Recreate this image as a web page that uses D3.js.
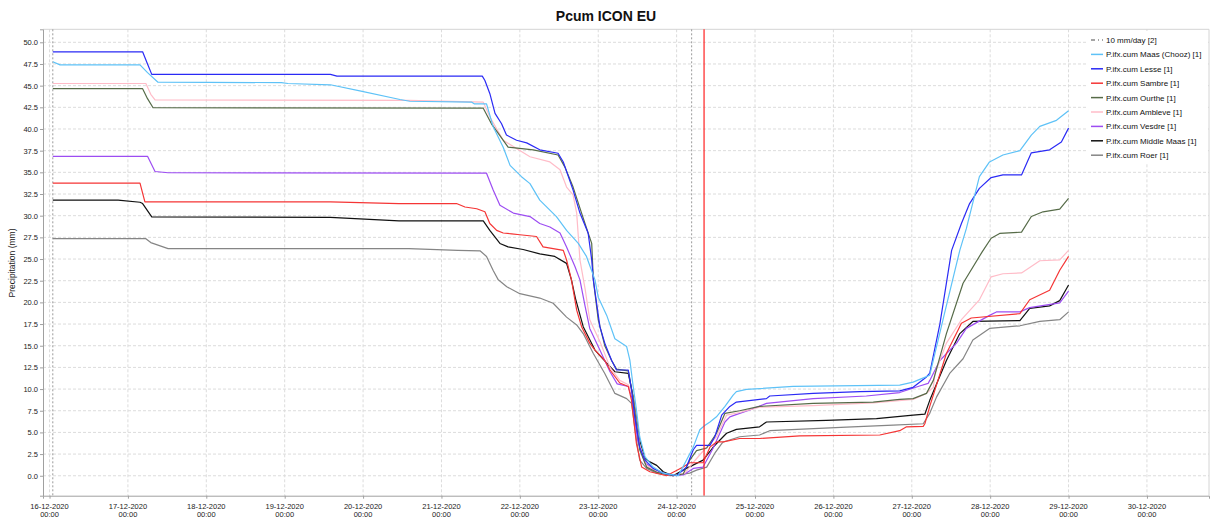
<!DOCTYPE html>
<html>
<head>
<meta charset="utf-8">
<script src="https://cdn.jsdelivr.net/npm/d3@7"></script>
<style>
  html, body { margin: 0; padding: 0; background: #fff; }
  svg { display: block; font-family: "Liberation Sans", Arial, sans-serif; }
</style>
</head>
<body>
<div id="chart"></div>
<script>
// Cumulative precipitation per catchment, [hours since 16-12-2020 00:00, mm]
const maasChooz = [[1,47.75],[3.2,47.4],[27.7,47.4],[30,46.5],[33.2,45.4],[71,45.35],[73,45.25],[86,45.1],[95,44.4],[107.3,43.4],[110.3,43.2],[129.2,43.1],[130,42.9],[133.8,42.9],[135.8,40.3],[138.9,37.9],[141,35.8],[144.5,34.5],[147.1,33.7],[150.1,31.8],[155.2,29.9],[158.3,28.3],[161.9,26.8],[164.4,25.3],[167,22.6],[168,20.6],[170.6,18.5],[173.1,15.8],[176.7,14.9],[177.7,13.3],[178.7,10.3],[179.7,7.6],[180.7,4.5],[182.3,2.2],[184.8,1.0],[187.9,0.3],[192.5,0],[195,1.8],[197.1,3.3],[199.1,5.3],[200.6,5.8],[202.2,6.2],[204.2,6.8],[206.8,8.0],[209.3,9.3],[210.3,9.7],[213.4,9.96],[227.7,10.3],[260.3,10.46],[264.4,10.8],[267,11.2],[269.5,11.6],[274,18.7],[278.7,26],[280.7,28.5],[284.7,34.5],[287.8,36.2],[291.9,37.0],[297.1,37.5],[300.6,39.3],[303.2,40.3],[308.3,41.0],[312,42.1]];
const lesse = [[1,48.9],[28.5,48.9],[30,47.5],[31.3,46.3],[86,46.3],[88,46.1],[132.5,46.1],[133.3,45.6],[134.8,44.1],[136.4,41.8],[138.4,40.6],[139.9,39.3],[143,38.7],[146.1,38.4],[150.1,37.6],[155.7,37.2],[157.3,36.2],[160.3,32.95],[162.4,30.3],[164.9,28.0],[166,24.9],[166.5,22.6],[167.5,19.9],[168.5,17.2],[170,15.3],[172.1,13.3],[173.6,12.2],[177.2,12.2],[178.2,9.9],[179.2,6.8],[180.7,3.3],[182.3,1.8],[184.8,0.85],[187.9,0.3],[192,0],[195,1.0],[197.1,3.0],[198.1,3.5],[202.2,3.5],[203.7,4.5],[205.8,7.0],[208.3,8.0],[210.3,8.5],[219.5,8.9],[220.5,9.2],[233.8,9.5],[248.1,9.7],[260.3,9.8],[264.4,10.2],[268.5,11.4],[269.5,11.85],[272.6,17.5],[276.2,26],[279.2,29.1],[281.7,31.4],[284.7,33.15],[288.3,34.4],[291.9,34.7],[297.6,34.7],[300.6,37.25],[306.2,37.6],[309.8,38.5],[312,40.1]];
const sambre = [[1,33.75],[27.7,33.75],[29.2,31.6],[86,31.6],[107,31.4],[124.6,31.4],[127.2,31.0],[130.8,30.8],[133.3,30.45],[134.8,29.1],[136.9,28.3],[138.9,28.0],[141.5,27.9],[144,27.8],[149.1,27.6],[151.1,26.4],[157.3,26.0],[158.3,24.9],[159.8,22.6],[161.4,19.1],[162.9,17.2],[165.4,15.3],[167,14.5],[170,13.3],[171.6,12.2],[174.6,10.7],[177.2,10.3],[178.2,8.7],[179.7,3.7],[181.3,1.0],[183.8,0.46],[188.9,0],[194,1.0],[196,1.5],[200.1,1.5],[202.2,3.3],[204.2,3.9],[206.3,3.9],[211.3,4.3],[217.4,4.3],[229.7,4.6],[254.2,4.7],[260.3,5.2],[262.4,5.65],[267.5,5.7],[268,6.0],[269.5,8.0],[274.6,14.1],[279.2,17.6],[282.2,18.2],[297.1,18.7],[300.1,20.3],[306.2,21.4],[309.3,23.7],[312,25.3]];
const ourthe = [[1,44.65],[28.5,44.65],[30,43.5],[31.7,42.45],[132.8,42.4],[135.3,40.6],[137.4,39.5],[140.4,37.9],[148.1,37.6],[155.7,37.0],[157.8,35.6],[160.3,33.3],[162.9,30.3],[164.9,28.0],[166,26.8],[166.5,22.6],[168,18.0],[170,15.0],[172.1,13.3],[173.6,12.3],[177.2,12.1],[178.7,9.0],[180.7,3.0],[182.8,1.0],[185.9,0.4],[190.9,0],[194,0.2],[196,1.8],[198.1,2.9],[201.2,3.2],[204.2,4.9],[206.8,7.2],[211.3,7.5],[217.4,8.0],[233.8,8.35],[252.2,8.5],[260.3,8.8],[264.4,8.9],[268.5,9.5],[270.6,11.0],[274.6,16.4],[279.7,22.2],[285.5,25.8],[288.3,27.4],[290.9,27.95],[297.6,28.1],[300.6,29.9],[304.2,30.45],[309.3,30.76],[312,32.0]];
const ambleve = [[1,45.25],[29.5,45.25],[31,44.0],[32.3,43.35],[110,43.3],[132.8,43.1],[134.8,41.4],[138.9,38.7],[147.1,36.8],[153.2,36.2],[156.3,35.3],[158.3,33.3],[160.3,32.4],[161.4,30.3],[162.4,24.9],[164,21.5],[165.4,18.0],[168.5,15.5],[171.6,12.5],[174.6,11.0],[177.2,10.5],[178.7,9.0],[180.7,3.5],[182.8,1.2],[187,0.3],[190.9,0],[194.5,0.3],[197,1.5],[200,2.8],[204.2,4.5],[207.3,7.0],[211.3,7.3],[217.4,7.9],[233.8,8.1],[252.2,8.4],[264.4,8.8],[268.5,9.5],[270.6,10.2],[271.1,11.8],[274.6,15.3],[279.2,18.0],[284.7,20.3],[288.3,22.95],[291.9,23.3],[297.6,23.4],[303.2,24.8],[309.3,24.9],[312,26.0]];
const vesdre = [[1,36.85],[30,36.85],[32.3,35.1],[36.3,34.95],[133.8,34.9],[135.8,33.0],[137.9,31.2],[142,30.3],[147.1,29.9],[150.1,29.1],[153.2,28.7],[156.3,28.0],[158.3,26.4],[160.9,24.1],[162.4,22.6],[164,19.5],[165.4,17.0],[168.5,14.5],[171.6,12.0],[173.8,10.6],[177.2,10.3],[178.3,9.0],[180.1,4.0],[182.3,1.5],[185.9,0.5],[190,0],[194,0.1],[197.1,0.85],[200.1,1.0],[203.2,3.2],[206.8,6.2],[208.3,6.8],[211.3,7.2],[214.4,7.6],[219.5,8.35],[233.8,8.9],[250.1,9.2],[260.3,9.6],[266.4,10.35],[269,10.65],[269.5,11.0],[272.6,13.3],[277.7,15.3],[280.7,17.0],[287.8,18.5],[289.9,18.9],[297.1,18.9],[300.1,19.4],[309.3,19.95],[312,21.3]];
const middleMaas = [[1,31.8],[21,31.8],[27.7,31.55],[28.5,31.4],[31.3,29.87],[86,29.8],[107,29.4],[132.8,29.4],[134.8,28.3],[137.9,26.8],[140.4,26.4],[145,26.1],[150.1,25.6],[154.7,25.3],[158.3,24.5],[159.8,22.6],[161,20.5],[163.4,17.2],[167,14.5],[170.6,13.0],[173.1,12.0],[177.2,11.8],[178.7,9.1],[180.7,4.1],[182.3,2.0],[183.8,1.6],[185.9,1.2],[187.9,0.46],[190.9,0],[195,0.85],[200.1,1.8],[202.2,2.8],[203.2,3.3],[205.2,4.1],[207.3,4.9],[210.3,5.35],[217.4,5.65],[219.5,6.2],[237.9,6.4],[253.2,6.6],[264.4,7.0],[268,7.1],[269.5,8.7],[274.6,13.3],[278.7,16.4],[282.7,17.8],[297.1,17.9],[300.1,19.3],[306.2,19.6],[309.3,20.2],[312,22.0]];
const roer = [[1,27.35],[29.5,27.35],[31,26.9],[36.3,26.2],[110,26.2],[125,26.0],[131.8,25.95],[133.8,25.3],[135.8,23.7],[137.4,22.6],[140,21.8],[144,21.0],[150.1,20.5],[154.2,19.9],[158.3,18.3],[161.4,17.4],[163.4,16.4],[166.5,14.1],[170,11.8],[173.1,9.5],[176.7,8.9],[178.2,8.35],[179.7,4.1],[180.7,1.8],[182.8,0.85],[185.9,0.3],[190.9,0],[196,0.3],[198.1,0.65],[201.2,1.0],[203.7,2.6],[205.8,3.7],[206.3,3.9],[211.3,4.5],[217.4,4.7],[220.5,5.2],[244,5.6],[258.3,5.85],[267.5,6.0],[269.5,7.2],[271.6,9.1],[275.6,11.8],[279.7,13.5],[282.7,15.65],[287.8,17.0],[297.1,17.3],[303.2,17.8],[309.3,18.0],[312,18.9]];

const seriesNames = ['P.ifx.cum Maas (Chooz) [1]', 'P.ifx.cum Lesse [1]', 'P.ifx.cum Sambre [1]', 'P.ifx.cum Ourthe [1]',
                     'P.ifx.cum Ambleve [1]', 'P.ifx.cum Vesdre [1]', 'P.ifx.cum Middle Maas [1]', 'P.ifx.cum Roer [1]'];
const seriesData = [maasChooz, lesse, sambre, ourthe, ambleve, vesdre, middleMaas, roer];
const seriesColors = ['#5ec2f7', '#2a2af5', '#f53535', '#566b48', '#ffbcc8', '#9d4df2', '#111111', '#858585'];
const thresholdLabel = '10 mm/day [2]';

// vertical markers (hours since start)
const dottedMarkers = [1, 196.6];
const nowMarker = 200.4;

const yTicks = d3.range(0, 50.01, 2.5);
const startDate = new Date(2020, 11, 16, 0, 0);
const hourToDate = h => new Date(startDate.getTime() + h * 3600 * 1000);

const W = 1213, H = 518;
const margin = { top: 29.3, right: 4, bottom: 22.3, left: 43 };

const svg = d3.select('#chart').append('svg')
    .attr('width', W)
    .attr('height', H);

const x = d3.scaleTime()
    .domain([hourToDate(-2), hourToDate(355)])
    .range([margin.left, W - margin.right]);
const y = d3.scaleLinear()
    .domain([-2.3, 51.5])
    .range([H - margin.bottom, margin.top]);

const dayTicks = d3.timeDay.range(startDate, hourToDate(14 * 24 + 1));

// Title
svg.append('text')
    .attr('x', 606).attr('y', 21)
    .attr('text-anchor', 'middle')
    .attr('font-size', '14px')
    .attr('font-weight', 'bold')
    .attr('fill', '#111')
    .text('Pcum ICON EU');

// Y axis label
svg.append('text')
    .attr('transform', 'translate(15,263) rotate(-90)')
    .attr('text-anchor', 'middle')
    .attr('font-size', '8.5px')
    .attr('fill', '#222')
    .text('Precipitation (mm)');

// Grid
const grid = svg.append('g');
grid.selectAll('.hgrid')
    .data(yTicks)
    .enter().append('line')
    .attr('x1', margin.left).attr('x2', W - margin.right)
    .attr('y1', d => y(d)).attr('y2', d => y(d))
    .attr('stroke', '#dcdcdc')
    .attr('stroke-dasharray', '3,2');
grid.selectAll('.vgrid')
    .data(dayTicks)
    .enter().append('line')
    .attr('x1', d => x(d)).attr('x2', d => x(d))
    .attr('y1', margin.top).attr('y2', H - margin.bottom)
    .attr('stroke', '#dcdcdc')
    .attr('stroke-dasharray', '3,2');

// Frame top and right
svg.append('path')
    .attr('d', `M${margin.left},${margin.top}H${W - margin.right}V${H - margin.bottom}`)
    .attr('fill', 'none')
    .attr('stroke', '#d4d4d4');

// Vertical markers
svg.selectAll('.marker')
    .data(dottedMarkers)
    .enter().append('line')
    .attr('x1', d => x(hourToDate(d))).attr('x2', d => x(hourToDate(d)))
    .attr('y1', margin.top).attr('y2', H - margin.bottom)
    .attr('stroke', '#9a9a9a')
    .attr('stroke-dasharray', '2,2');

// Series
const line = d3.line()
    .x(d => x(hourToDate(d[0])))
    .y(d => y(d[1]));

svg.append('g').selectAll('path')
    .data(seriesData.map((d, i) => ({ values: d, color: seriesColors[i] })).reverse())
    .enter().append('path')
    .attr('d', d => line(d.values))
    .attr('fill', 'none')
    .attr('stroke', d => d.color)
    .attr('stroke-width', 1.2)
    .attr('stroke-linejoin', 'round');

svg.append('line')
    .attr('x1', x(hourToDate(nowMarker))).attr('x2', x(hourToDate(nowMarker)))
    .attr('y1', margin.top).attr('y2', H - margin.bottom)
    .attr('stroke', '#ff2020')
    .attr('stroke-width', 1.2);

// Axes
const yAxis = svg.append('g')
    .attr('transform', `translate(${margin.left},0)`)
    .call(d3.axisLeft(y).tickValues(yTicks).tickFormat(d3.format('.1f')).tickSize(3).tickPadding(2));
const xAxis = svg.append('g')
    .attr('transform', `translate(0,${H - margin.bottom})`)
    .call(d3.axisBottom(x).tickValues(dayTicks).tickFormat('').tickSize(3));

[yAxis, xAxis].forEach(ax => {
    ax.select('.domain').attr('stroke', '#a0a0a0');
    ax.selectAll('.tick line').attr('stroke', '#a0a0a0');
    ax.selectAll('text').attr('font-size', '7.5px').attr('fill', '#222')
        .attr('font-family', '"Liberation Sans", Arial, sans-serif');
});

const fmtDate = d3.timeFormat('%d-%m-%Y');
const fmtTime = d3.timeFormat('%H:%M');
const xLabels = svg.append('g').selectAll('g')
    .data(dayTicks)
    .enter().append('g')
    .attr('transform', d => `translate(${x(d)},0)`);
xLabels.append('text')
    .attr('y', 508.5)
    .attr('text-anchor', 'middle')
    .attr('font-size', '7.5px')
    .attr('fill', '#222')
    .text(d => fmtDate(d));
xLabels.append('text')
    .attr('y', 517)
    .attr('text-anchor', 'middle')
    .attr('font-size', '7.5px')
    .attr('fill', '#222')
    .text(d => fmtTime(d));

// Legend
const legend = svg.append('g').attr('transform', 'translate(1086,31)');
legend.append('rect')
    .attr('width', 122).attr('height', 132)
    .attr('fill', '#fff');
const legendItems = [{ name: thresholdLabel, color: '#888', dash: '4,3,1,3' }]
    .concat(seriesNames.map((n, i) => ({ name: n, color: seriesColors[i], dash: null })));
const li = legend.selectAll('.li')
    .data(legendItems)
    .enter().append('g')
    .attr('transform', (d, i) => `translate(0,${9 + i * 14.4})`);
li.append('line')
    .attr('x1', 5).attr('x2', 17)
    .attr('stroke', d => d.color)
    .attr('stroke-width', 1.5)
    .attr('stroke-dasharray', d => d.dash);
li.append('text')
    .attr('x', 20).attr('y', 3)
    .attr('font-size', '8px')
    .attr('fill', '#111')
    .text(d => d.name);
</script>
</body>
</html>
